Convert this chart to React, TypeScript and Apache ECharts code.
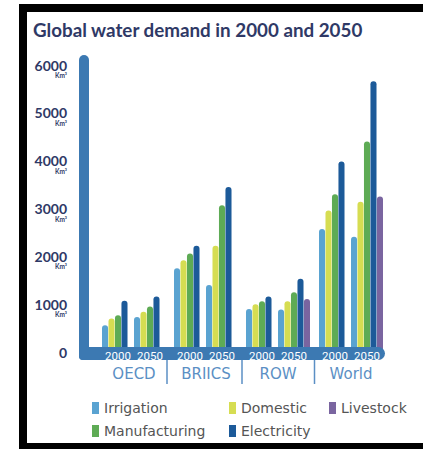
import React, { useEffect, useRef } from 'react';
import * as echarts from 'echarts';

// ---- data ----
const regions = ['OECD', 'BRIICS', 'ROW', 'World'];
const years = ['2000', '2050'];
const sectors = ['Irrigation', 'Domestic', 'Manufacturing', 'Electricity', 'Livestock'];
// order: OECD 2000, OECD 2050, BRIICS 2000, BRIICS 2050, ROW 2000, ROW 2050, World 2000, World 2050 (km³)
const irrigation = [560, 730, 1750, 1400, 900, 890, 2570, 2410];
const domestic = [700, 840, 1920, 2220, 1000, 1060, 2960, 3140];
const manufacturing = [770, 950, 2060, 3070, 1060, 1250, 3300, 4400];
const electricity = [1070, 1160, 2220, 3450, 1160, 1530, 3980, 5660];
const livestock = [null, null, null, null, null, 1110, null, 3250];
const yMax = 6000;
const yStep = 1000;

// ---- styling / layout ----
const sectorColors = ['#5aa3d1', '#d6dd52', '#5eab55', '#1c5a99', '#7a65a0'];
const axisBlue = '#3c79b2';
const navy = '#2f3966';
const gridLefts = [102, 174, 246, 319];
const gridWidth = 64;
const gridTop = 65;
const gridBottom = 97;
const separatorsX = [167, 242, 314.5];

export default function App() {
  const ref = useRef<HTMLDivElement>(null);

  useEffect(() => {
    if (!ref.current) return;
    const chart = echarts.init(ref.current, null, { renderer: 'svg' });
    const valuesBySector = [irrigation, domestic, manufacturing, electricity, livestock];

    const grids = gridLefts.map((left) => ({ left, width: gridWidth, top: gridTop, bottom: gridBottom }));

    const xAxes = regions.map((r, i) => ({
      type: 'category',
      gridIndex: i,
      z: 30,
      data: years,
      axisLine: { show: false },
      axisTick: { show: false },
      axisLabel: {
        color: '#ffffff',
        fontFamily: "'Liberation Sans Narrow', 'Arial Narrow', Roboto, sans-serif",
        fontSize: 11.5,
        margin: 4,
        verticalAlign: 'middle',
        interval: 0,
      },
      name: r,
      nameLocation: 'middle',
      nameGap: 21,
      nameTextStyle: {
        color: '#5b8fc4',
        fontFamily: "'DejaVu Sans', sans-serif",
        fontSize: 15,
        verticalAlign: 'middle',
      },
    }));

    const yAxes = regions.map((r, i) => ({
      type: 'value',
      gridIndex: i,
      min: 0,
      max: yMax,
      interval: yStep,
      axisLine: { show: false },
      axisTick: { show: false },
      splitLine: { show: false },
      axisLabel: {
        show: i === 0,
        margin: 35,
        formatter: (v: number) =>
          v === 0 ? '{n|0}' : `{e| }\n{n|${v}}\n{u|Km³}`,
        rich: {
          e: { fontSize: 6, lineHeight: 8 },
          n: {
            fontFamily: 'Lato, sans-serif',
            fontWeight: 'bold',
            fontSize: 14,
            lineHeight: 13,
            color: navy,
            align: 'right',
          },
          u: {
            fontFamily: 'Lato, sans-serif',
            fontWeight: 'bold',
            fontSize: 6.5,
            lineHeight: 8,
            color: navy,
            align: 'right',
          },
        },
      },
    }));

    const series: any[] = [];
    regions.forEach((r, ri) => {
      sectors.forEach((s, si) => {
        series.push({
          type: 'bar',
          name: s,
          xAxisIndex: ri,
          yAxisIndex: ri,
          data: years.map((y, yi) => valuesBySector[si][ri * 2 + yi]),
          barGap: '7%',
          barCategoryGap: '0%',
          itemStyle: { color: sectorColors[si], borderRadius: [3, 3, 0, 0] },
        });
      });
    });

    const legendCommon = {
      orient: 'vertical',
      top: 401,
      itemWidth: 7,
      itemHeight: 12,
      itemGap: 9,
      icon: 'rect',
      padding: 0,
      textStyle: { fontFamily: "'DejaVu Sans', sans-serif", fontSize: 14, color: '#555555' },
    };

    const sepLines = separatorsX.map((x) => ({
      type: 'line',
      shape: { x1: x, y1: 360, x2: x, y2: 384 },
      style: { stroke: '#5b8fc4', lineWidth: 1.5 },
      z: 10,
    }));

    chart.setOption({
      animation: false,
      backgroundColor: '#ffffff',
      title: {
        text: 'Global water demand in 2000 and 2050',
        left: 33,
        top: 20,
        padding: 0,
        textStyle: { fontFamily: 'Lato, sans-serif', fontWeight: 'bold', fontSize: 18.8, color: navy },
      },
      legend: [
        { ...legendCommon, left: 92, data: ['Irrigation', 'Manufacturing'] },
        { ...legendCommon, left: 229, data: ['Domestic', 'Electricity'] },
        { ...legendCommon, left: 329, data: ['Livestock'] },
      ],
      grid: grids,
      xAxis: xAxes,
      yAxis: yAxes,
      series,
      graphic: [
        {
          type: 'rect',
          shape: { x: 23, y: 8, width: 430, height: 439 },
          style: { fill: 'none', stroke: '#000000', lineWidth: 8 },
          z: 20,
        },
        {
          type: 'rect',
          shape: { x: 79, y: 55, width: 10, height: 305, r: [5, 5, 0, 4] },
          style: { fill: axisBlue },
          z: 10,
        },
        {
          type: 'rect',
          shape: { x: 79, y: 347, width: 306, height: 13, r: [0, 6.5, 6.5, 4] },
          style: { fill: axisBlue },
          z: 10,
        },
        ...sepLines,
      ],
    });
    return () => chart.dispose();
  }, []);

  return (
    <div
      ref={ref}
      style={{ position: 'absolute', left: 0, top: 0, width: 423, height: 449 }}
    />
  );
}
